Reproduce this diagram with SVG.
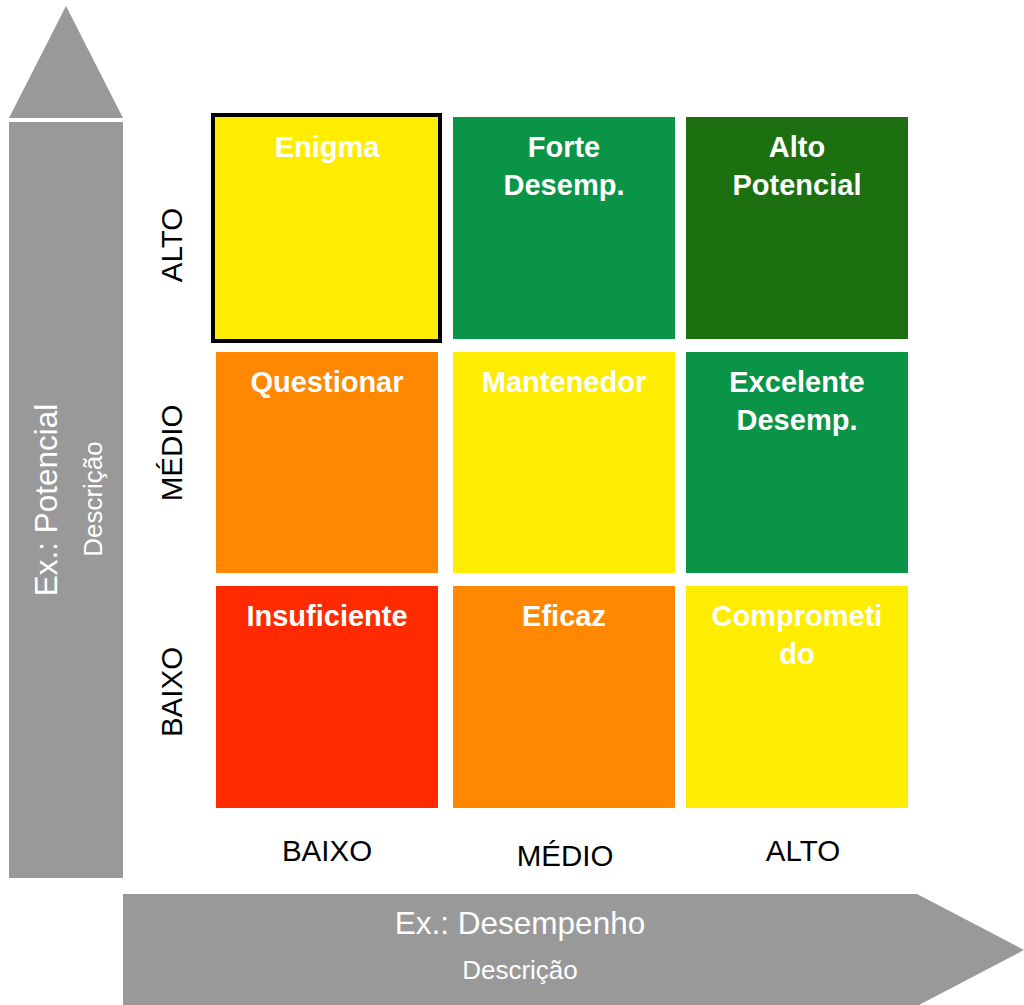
<svg xmlns="http://www.w3.org/2000/svg" width="1024" height="1005" viewBox="0 0 1024 1005">
<style>
.axis{fill:#999999}
.cell-t{font-family:"Liberation Sans",Arial,sans-serif;font-weight:bold;font-size:29px;fill:#ffffff;text-anchor:middle}
.lbl{font-family:"Liberation Sans",Arial,sans-serif;font-size:29.5px;fill:#000000;text-anchor:middle}
.big{font-family:"Liberation Sans",Arial,sans-serif;font-size:31.5px;fill:#ffffff;text-anchor:middle}
.small{font-family:"Liberation Sans",Arial,sans-serif;font-size:26px;fill:#ffffff;text-anchor:middle}
.yellow{fill:#FFED00}
.green{fill:#0A9447}
.dgreen{fill:#1D7010}
.orange{fill:#FF8800}
.red{fill:#FF2A00}
</style>
<rect width="1024" height="1005" fill="#ffffff"/>
<g id="axis-y">
<polygon class="axis" points="66,6 123,118 9,118"/>
<rect class="axis" x="9" y="122" width="114" height="756"/>
<text class="big" transform="translate(57,500) rotate(-90)">Ex.: Potencial</text>
<text class="small" transform="translate(102,499) rotate(-90)">Descrição</text>
</g>
<g id="axis-x">
<polygon class="axis" points="123,894 917,894 1024,950 917,1006 123,1006"/>
<text class="big" x="520" y="934">Ex.: Desempenho</text>
<text class="small" x="520" y="979">Descrição</text>
</g>
<g id="row-labels">
<text class="lbl" transform="translate(182,245) rotate(-90)">ALTO</text>
<text class="lbl" transform="translate(182,453) rotate(-90)">MÉDIO</text>
<text class="lbl" transform="translate(182,692) rotate(-90)">BAIXO</text>
</g>
<g id="col-labels">
<text class="lbl" x="327" y="861">BAIXO</text>
<text class="lbl" x="565" y="866">MÉDIO</text>
<text class="lbl" x="803" y="861">ALTO</text>
</g>
<g id="cell-enigma">
<rect class="yellow" x="213" y="115" width="227" height="226" stroke="#000000" stroke-width="4"/>
<text class="cell-t" x="327" y="157">Enigma</text>
</g>
<g id="cell-forte">
<rect class="green" x="453" y="117" width="222" height="222"/>
<text class="cell-t" x="564" y="157">Forte</text>
<text class="cell-t" x="564" y="195">Desemp.</text>
</g>
<g id="cell-alto">
<rect class="dgreen" x="686" y="117" width="222" height="222"/>
<text class="cell-t" x="797" y="157">Alto</text>
<text class="cell-t" x="797" y="195">Potencial</text>
</g>
<g id="cell-questionar">
<rect class="orange" x="216" y="352" width="222" height="221"/>
<text class="cell-t" x="327" y="392">Questionar</text>
</g>
<g id="cell-mantenedor">
<rect class="yellow" x="453" y="352" width="222" height="221"/>
<text class="cell-t" x="564" y="392">Mantenedor</text>
</g>
<g id="cell-excelente">
<rect class="green" x="686" y="352" width="222" height="221"/>
<text class="cell-t" x="797" y="392">Excelente</text>
<text class="cell-t" x="797" y="430">Desemp.</text>
</g>
<g id="cell-insuficiente">
<rect class="red" x="216" y="586" width="222" height="222"/>
<text class="cell-t" x="327" y="626">Insuficiente</text>
</g>
<g id="cell-eficaz">
<rect class="orange" x="453" y="586" width="222" height="222"/>
<text class="cell-t" x="564" y="626">Eficaz</text>
</g>
<g id="cell-comprometido">
<rect class="yellow" x="686" y="586" width="222" height="222"/>
<text class="cell-t" x="797" y="626">Comprometi</text>
<text class="cell-t" x="797" y="664">do</text>
</g>
<g id="connectors"></g>
</svg>
